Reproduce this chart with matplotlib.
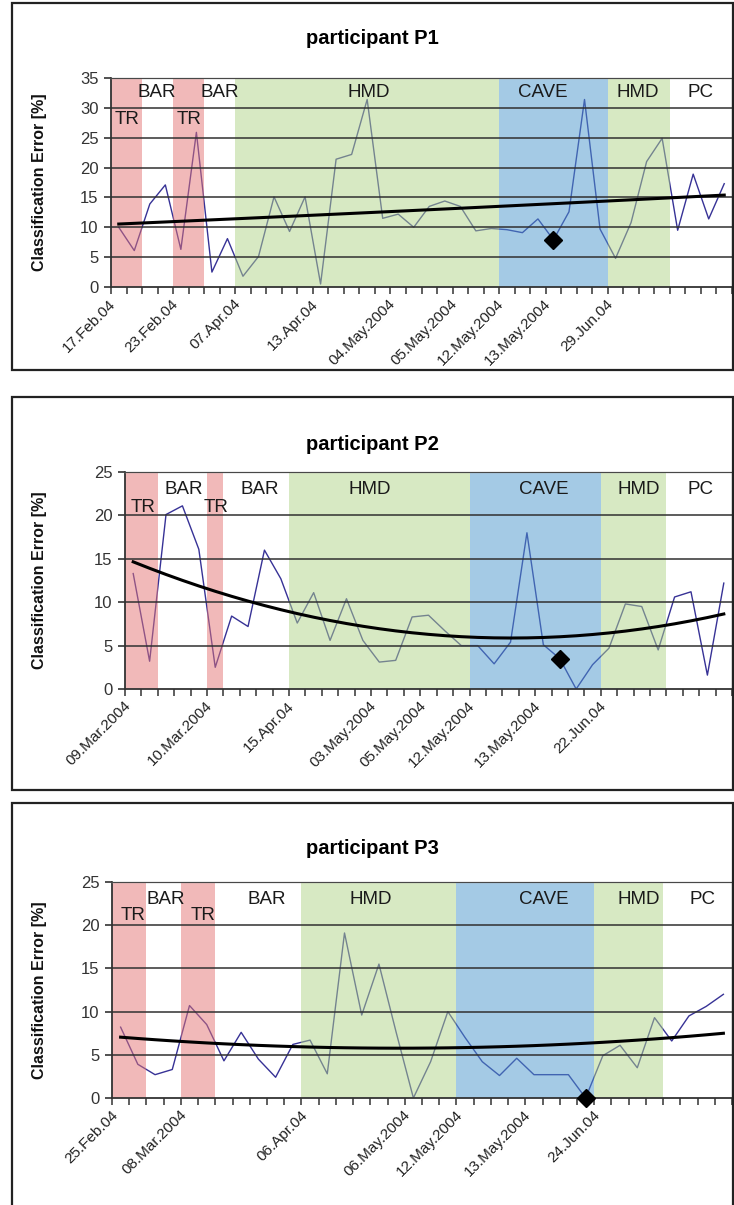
import matplotlib
matplotlib.use("Agg")
import matplotlib.pyplot as plt
import matplotlib.transforms as mtransforms
from matplotlib.patches import Rectangle
import numpy as np

plt.rcParams["font.family"] = ["Liberation Sans", "DejaVu Sans"]

# ---- data ----------------------------------------------------------------
# participant P1 (40 sessions)
p1_error = [10.0, 6.1, 13.9, 17.1, 6.3, 25.9, 2.5, 8.1, 1.8, 5.1,
            15.1, 9.3, 15.1, 0.5, 21.4, 22.2, 31.4, 11.5, 12.2, 10.0,
            13.5, 14.4, 13.5, 9.4, 9.8, 9.6, 9.1, 11.4, 7.9, 12.6,
            31.4, 9.7, 4.8, 10.8, 21.0, 24.9, 9.5, 18.9, 11.4, 17.3]
p1_phases = ["TR", "BAR", "TR", "BAR", "HMD", "CAVE", "HMD", "PC"]
p1_phase_len = [2, 2, 2, 2, 17, 7, 4, 4]
p1_dates = ["17.Feb.04", "23.Feb.04", "07.Apr.04", "13.Apr.04", "04.May.2004",
            "05.May.2004", "12.May.2004", "13.May.2004", "29.Jun.04"]
p1_date_idx = [0, 4, 8, 13, 18, 22, 25, 28, 32]
p1_marker = 28

# participant P2 (37 sessions)
p2_error = [13.3, 3.2, 20.1, 21.1, 16.1, 2.5, 8.4, 7.2, 16.0, 12.7,
            7.6, 11.1, 5.6, 10.4, 5.6, 3.1, 3.3, 8.3, 8.5, 6.7,
            5.0, 5.0, 2.9, 5.4, 18.0, 5.1, 3.5, 0.0, 2.8, 4.7,
            9.8, 9.5, 4.5, 10.6, 11.2, 1.6, 12.2]
p2_phases = ["TR", "BAR", "TR", "BAR", "HMD", "CAVE", "HMD", "PC"]
p2_phase_len = [2, 3, 1, 4, 11, 8, 4, 4]
p2_dates = ["09.Mar.2004", "10.Mar.2004", "15.Apr.04", "03.May.2004",
            "05.May.2004", "12.May.2004", "13.May.2004", "22.Jun.04"]
p2_date_idx = [0, 5, 10, 15, 18, 21, 25, 29]
p2_marker = 26

# participant P3 (36 sessions)
p3_error = [8.2, 3.9, 2.7, 3.3, 10.7, 8.5, 4.3, 7.6, 4.5, 2.4,
            6.2, 6.7, 2.8, 19.1, 9.6, 15.5, 7.6, 0.0, 4.2, 10.0,
            7.0, 4.2, 2.6, 4.6, 2.7, 2.7, 2.7, 0.0, 4.9, 6.1,
            3.5, 9.3, 6.6, 9.5, 10.6, 12.0]
p3_phases = ["TR", "BAR", "TR", "BAR", "HMD", "CAVE", "HMD", "PC"]
p3_phase_len = [2, 2, 2, 5, 9, 8, 4, 4]
p3_dates = ["25.Feb.04", "08.Mar.2004", "06.Apr.04", "06.May.2004",
            "12.May.2004", "13.May.2004", "24.Jun.04"]
p3_date_idx = [0, 4, 11, 17, 20, 24, 28]
p3_marker = 27

# ---- layout (pixels of the 734x1205 picture) -----------------------------
W, H = 734, 1205
LINE = (55 / 255, 50 / 255, 150 / 255)
SHADE = {"TR": (229 / 255, 117 / 255, 117 / 255),
         "HMD": (177 / 255, 213 / 255, 137 / 255),
         "CAVE": (75 / 255, 151 / 255, 205 / 255)}

panels = [
    dict(title="participant P1", values=p1_error, phases=p1_phases,
         lens=p1_phase_len, dates=p1_dates, didx=p1_date_idx, marker=p1_marker,
         ymax=35, box=(111, 78, 732, 287), frame=(12, 3, 733, 370), title_y=38,
         tag_x=[0.56, 2.44, 4.52, 6.52, 16.1, 27.3, 33.4, 37.5],
         tag_y=[28.1, 32.6]),
    dict(title="participant P2", values=p2_error, phases=p2_phases,
         lens=p2_phase_len, dates=p2_dates, didx=p2_date_idx, marker=p2_marker,
         ymax=25, box=(125, 472, 732, 689), frame=(12, 397, 733, 790), title_y=444,
         tag_x=[0.62, 3.1, 5.07, 7.73, 14.4, 25.0, 30.8, 34.6],
         tag_y=[20.9, 23.0]),
    dict(title="participant P3", values=p3_error, phases=p3_phases,
         lens=p3_phase_len, dates=p3_dates, didx=p3_date_idx, marker=p3_marker,
         ymax=25, box=(112, 882, 732, 1098), frame=(12, 803, 733, 1210), title_y=848,
         tag_x=[0.75, 2.6, 4.8, 8.5, 14.5, 24.6, 30.1, 33.8],
         tag_y=[21.1, 23.0]),
]

fig = plt.figure(figsize=(W / 100, H / 100), dpi=100)
fig.patch.set_facecolor("white")

for p in panels:
    fx0, fy0, fx1, fy1 = p["frame"]
    fig.add_artist(Rectangle((fx0 / W, 1 - fy1 / H), (fx1 - fx0) / W, (fy1 - fy0) / H,
                             transform=fig.transFigure, fill=False,
                             edgecolor="#222222", linewidth=1.6))
    x0, y0, x1, y1 = p["box"]
    ax = fig.add_axes([x0 / W, 1 - y1 / H, (x1 - x0) / W, (y1 - y0) / H])

    y = np.array(p["values"])
    n = len(y)
    x = np.arange(n)

    ax.plot(x, y, color=LINE, linewidth=1.0, zorder=1)

    # phase shading drawn over the series, as in the original
    start = 0
    for name, ln in zip(p["phases"], p["lens"]):
        if name in SHADE:
            ax.axvspan(start - 0.5, start + ln - 0.5, color=SHADE[name],
                       alpha=0.5, linewidth=0, zorder=2)
        start += ln

    for v in range(5, p["ymax"] + 1, 5):
        ax.axhline(v, color="#303030", linewidth=1.1, zorder=3)

    # second-order trend line, as Excel fitted it
    coef = np.polyfit(x, y, 2)
    ax.plot(x, np.polyval(coef, x), color="black", linewidth=2.2, zorder=4)

    ax.plot(p["marker"], y[p["marker"]], marker="D", color="black",
            markersize=9.5, linestyle="none", zorder=5, clip_on=False)

    for i, name in enumerate(p["phases"]):
        row = 0 if name == "TR" else 1
        ax.text(p["tag_x"][i], p["tag_y"][row], name, fontsize=13.5,
                color="#1a1a1a", ha="center", va="center", zorder=6)

    ax.set_xlim(-0.5, n - 0.5)
    ax.set_ylim(0, p["ymax"])
    ax.set_yticks(range(0, p["ymax"] + 1, 5))
    ax.tick_params(axis="y", labelsize=12, colors="#333333", length=5,
                   width=1.2, pad=4)
    ax.set_xticks(np.arange(n + 1) - 0.5)
    ax.set_xticklabels([])
    ax.tick_params(axis="x", which="major", length=5, width=1.1,
                   colors="#333333", direction="out")
    ax.set_xticks(p["didx"], minor=True)
    ax.set_xticklabels(p["dates"], minor=True, rotation=45, ha="right",
                       rotation_mode="anchor", fontsize=11, color="#222222")
    ax.tick_params(axis="x", which="minor", length=0, pad=7)
    shift = mtransforms.ScaledTranslation(-10 / 100, 0, fig.dpi_scale_trans)
    for lab in ax.get_xticklabels(minor=True):
        lab.set_transform(lab.get_transform() + shift)

    for side in ("top", "right"):
        ax.spines[side].set_color("#9a9a9a")
        ax.spines[side].set_linewidth(1.0)
    for side in ("left", "bottom"):
        ax.spines[side].set_color("#333333")
        ax.spines[side].set_linewidth(1.3)
    ax.set_facecolor("white")

    fig.text(372 / W, 1 - p["title_y"] / H, p["title"], fontsize=14.5,
             fontweight="bold", ha="center", va="center")
    fig.text(40 / W, 1 - (y0 + y1) / 2 / H, "Classification Error [%]",
             fontsize=11.5, fontweight="bold", rotation=90, ha="center",
             va="center", color="#111111")

fig.savefig("out.png", dpi=100, facecolor="white")
